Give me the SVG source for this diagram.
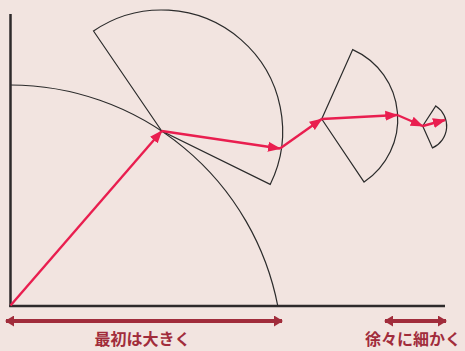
<svg xmlns="http://www.w3.org/2000/svg" width="465" height="351" viewBox="0 0 465 351">
<style>
.axis{stroke:#2e2a2b;stroke-width:2.5;fill:none}
.guide{stroke:#2b2b2b;stroke-width:1.2;fill:none}
.step{stroke:#e91e4f;stroke-width:2.4;fill:none;marker-end:url(#ah)}
.range{stroke:#a12c3b;stroke-width:4;fill:none;marker-start:url(#rh);marker-end:url(#rh)}
.lbl{font-family:"Noto Sans CJK JP","Noto Sans",sans-serif;font-weight:bold;font-size:16px;fill:#a12c3b;text-anchor:middle}
</style>
<defs>
<marker id="ah" markerUnits="userSpaceOnUse" markerWidth="13" markerHeight="11" viewBox="0 0 13 11" refX="12" refY="5.5" orient="auto"><path d="M0,0.5 L13,5.5 L0,10.5 z" fill="#e91e4f"/></marker>
<marker id="rh" markerUnits="userSpaceOnUse" markerWidth="9" markerHeight="11" viewBox="0 0 9 11" refX="8" refY="5.5" orient="auto-start-reverse"><path d="M0,0 L9,5.5 L0,11 z" fill="#a12c3b"/></marker>
</defs>
<rect width="465" height="351" fill="#f2e4e0"/>
<g id="axes">
<line class="axis" x1="10.5" y1="14" x2="10.5" y2="307"/>
<line class="axis" x1="9.3" y1="306" x2="445" y2="306"/>
</g>
<g id="big-arc"><path class="guide" d="M10.5,85 A273,273 0 0 1 277.8,306"/></g>
<g id="fan1"><path class="guide" d="M161.7,131 L93.5,31 A121,121 0 0 1 270.2,184.4 Z"/></g>
<g id="fan2"><path class="guide" d="M321.7,119 L352.7,49.6 A76,76 0 0 1 364.1,182.1 Z"/></g>
<g id="fan3"><path class="guide" d="M422.7,126 L435.8,105.9 A24,24 0 0 1 432.5,147.9 Z"/></g>
<g id="connectors">
<line class="step" x1="10.5" y1="305.5" x2="161.7" y2="131"/>
<line class="step" x1="161.7" y1="131" x2="280" y2="148.5"/>
<line class="step" x1="280" y1="148.5" x2="321.7" y2="119"/>
<line class="step" x1="321.7" y1="119" x2="397.3" y2="115"/>
<line class="step" x1="397.3" y1="115" x2="422.7" y2="126"/>
<line class="step" x1="422.7" y1="126" x2="445" y2="120"/>
<line class="range" x1="6" y1="321" x2="282" y2="321"/>
<line class="range" x1="385" y1="321" x2="446" y2="321"/>
</g>
<g id="labels">
<text class="lbl" x="142.5" y="345">最初は大きく</text>
<text class="lbl" x="413" y="345">徐々に細かく</text>
</g>
</svg>
